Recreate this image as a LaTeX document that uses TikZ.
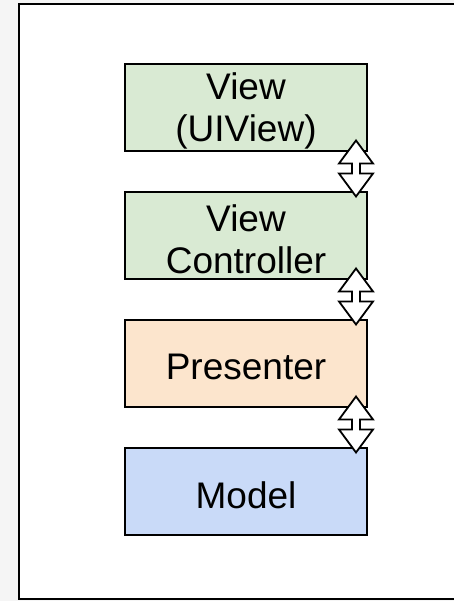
\documentclass[tikz,border=0pt]{standalone}
\usepackage{fontspec}
\setmainfont{Liberation Sans}
\usetikzlibrary{calc}

\definecolor{viewgreen}{HTML}{D9EAD3}
\definecolor{presorange}{HTML}{FCE5CD}
\definecolor{modelblue}{HTML}{C9DAF8}
\definecolor{pagegray}{HTML}{F5F5F5}

\tikzset{
  layer/.style={draw=black, line width=2pt, minimum width=242pt, minimum height=87pt,
    inner sep=0pt},
  layertext/.style={align=center, inner sep=0pt, yshift=-3pt,
    font=\fontsize{37}{42}\selectfont},
  arrowbody/.style={draw=black, fill=white, line width=1.8pt, line join=miter},
}

% two-headed block arrow from top tip #1 down to bottom tip #2
\newcommand{\twowayarrow}[2]{%
  \draw[arrowbody] (#1) -- ++(17,-23) -- ++(-13,0)
    -- ($(#2)+(4,23)$) -- ++(13,0) -- (#2) -- ++(-17,23) -- ++(13,0)
    -- ($(#1)+(-4,-23)$) -- ++(-13,0) -- cycle;}

\begin{document}
\begin{tikzpicture}[x=1pt,y=1pt]
  \useasboundingbox (0,0) rectangle (454,601);
  \clip (0,0) rectangle (454,601);
  \fill[pagegray] (0,0) rectangle (454,601);
  \draw[fill=white, line width=2.5pt] (19,2) rectangle (480,597);

  \node[layer, fill=viewgreen]  (view)  at (246,493) {};
  \node[layer, fill=viewgreen]  (vc)    at (246,365) {};
  \node[layer, fill=presorange] (pres)  at (246,237) {};
  \node[layer, fill=modelblue]  (model) at (246,109) {};

  \node[layertext] (viewtext)  at (view)  {View\\(UIView)};
  \node[layertext] (vctext)    at (vc)    {View\\Controller};
  \node[layertext] (prestext)  at (pres)  {Presenter};
  \node[layertext] (modeltext) at (model) {Model};

  \coordinate (a1t) at ($(view.south east)+(-12,12)$);
  \coordinate (a1b) at ($(vc.north east)+(-12,-5)$);
  \coordinate (a2t) at ($(vc.south east)+(-12,12)$);
  \coordinate (a2b) at ($(pres.north east)+(-12,-5)$);
  \coordinate (a3t) at ($(pres.south east)+(-12,12)$);
  \coordinate (a3b) at ($(model.north east)+(-12,-5)$);

  \twowayarrow{a1t}{a1b}
  \twowayarrow{a2t}{a2b}
  \twowayarrow{a3t}{a3b}
\end{tikzpicture}
\end{document}
